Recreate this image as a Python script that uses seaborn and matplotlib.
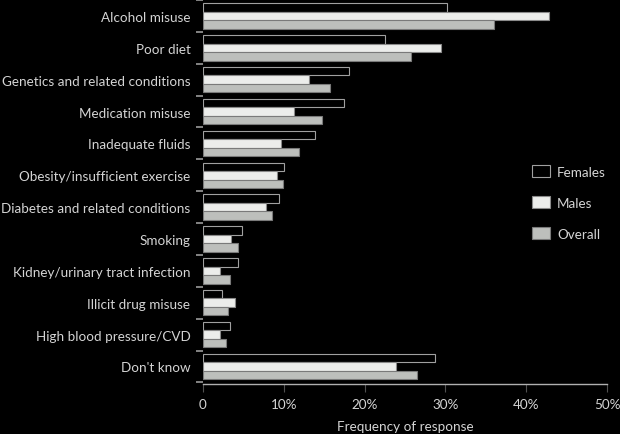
import matplotlib
matplotlib.use("Agg")
import matplotlib.pyplot as plt
import seaborn as sns
import pandas as pd
import numpy as np
from matplotlib.patches import Patch

categories = ["Alcohol misuse", "Poor diet", "Genetics and related conditions",
              "Medication misuse", "Inadequate fluids", "Obesity/insufficient exercise",
              "Diabetes and related conditions", "Smoking", "Kidney/urinary tract infection",
              "Illicit drug misuse", "High blood pressure/CVD", "Don't know"]
females = [30.2, 22.5, 18.1, 17.5, 13.9, 10.0, 9.4, 4.8, 4.3, 2.3, 3.4, 28.7]
males   = [42.8, 29.5, 13.1, 11.3, 9.7, 9.1, 7.8, 3.5, 2.1, 4.0, 2.1, 23.9]
overall = [36.0, 25.7, 15.7, 14.7, 11.9, 9.9, 8.6, 4.3, 3.3, 3.1, 2.8, 26.5]
series_names = ["Females", "Males", "Overall"]
xticks = [0, 10, 20, 30, 40, 50]
xticklabels = ["0", "10%", "20%", "30%", "40%", "50%"]

rows = []
for name, vals in zip(series_names, [females, males, overall]):
    for c, v in zip(categories, vals):
        rows.append({"category": c, "series": name, "value": v})
df = pd.DataFrame(rows)

sns.set_style("dark")
plt.rcParams['font.family'] = ['Lato', 'DejaVu Sans']
txt = "#d4d4d4"
bg = "#000000"
fs = 9.7

fig = plt.figure(figsize=(6.2, 4.35), dpi=100, facecolor=bg)
ax = fig.add_axes([203/620, 1-385/435, 404/620, 384/435])
ax.set_facecolor(bg)

fills = {"Females": "#000000", "Males": "#ecedeb", "Overall": "#bdbfbc"}
edges = {"Females": "#a0a0a0", "Males": "#8a8a8a", "Overall": "#7a7a7a"}

sns.barplot(data=df, y="category", x="value", hue="series", order=categories,
            hue_order=series_names, palette=fills, orient="h", width=0.8,
            ax=ax, legend=False, saturation=1)
for cont, name in zip(ax.containers, series_names):
    for p in cont:
        p.set_edgecolor(edges[name])
        p.set_linewidth(0.8)

ax.set_xlim(0, 50)
ax.set_ylim(len(categories) - 0.45, -0.5)
ax.set_xticks(xticks)
ax.set_xticklabels(xticklabels, color=txt, fontsize=fs)
ax.set_yticks(range(len(categories)))
ax.set_yticklabels(categories, color=txt, fontsize=fs)
ax.set_yticks(np.arange(-0.5, len(categories), 1.0), minor=True)
ax.tick_params(axis="y", which="major", length=0, pad=9)
ax.tick_params(axis="y", which="minor", length=5, color="#9a9a9a", width=1.2, left=True)
ax.tick_params(axis="x", which="major", length=6, color="#505050", pad=4, bottom=True)
ax.set_xlabel("Frequency of response", color=txt, fontsize=fs, labelpad=7)
ax.set_ylabel("")
ax.grid(False)
for s in ["top", "right", "left"]:
    ax.spines[s].set_visible(False)
ax.spines["bottom"].set_color("#b0b0b0")
ax.spines["bottom"].set_linewidth(1.0)

handles = [Patch(facecolor=fills[n], edgecolor=edges[n], linewidth=0.8) for n in series_names]
leg = fig.legend(handles, series_names, loc="upper left", bbox_to_anchor=(520/620, 1-154/435),
                 frameon=False, fontsize=fs, handlelength=1.35, handleheight=1.0,
                 labelspacing=1.37, handletextpad=0.5)
for t in leg.get_texts():
    t.set_color(txt)

fig.savefig("out.png", dpi=100, facecolor=bg)
